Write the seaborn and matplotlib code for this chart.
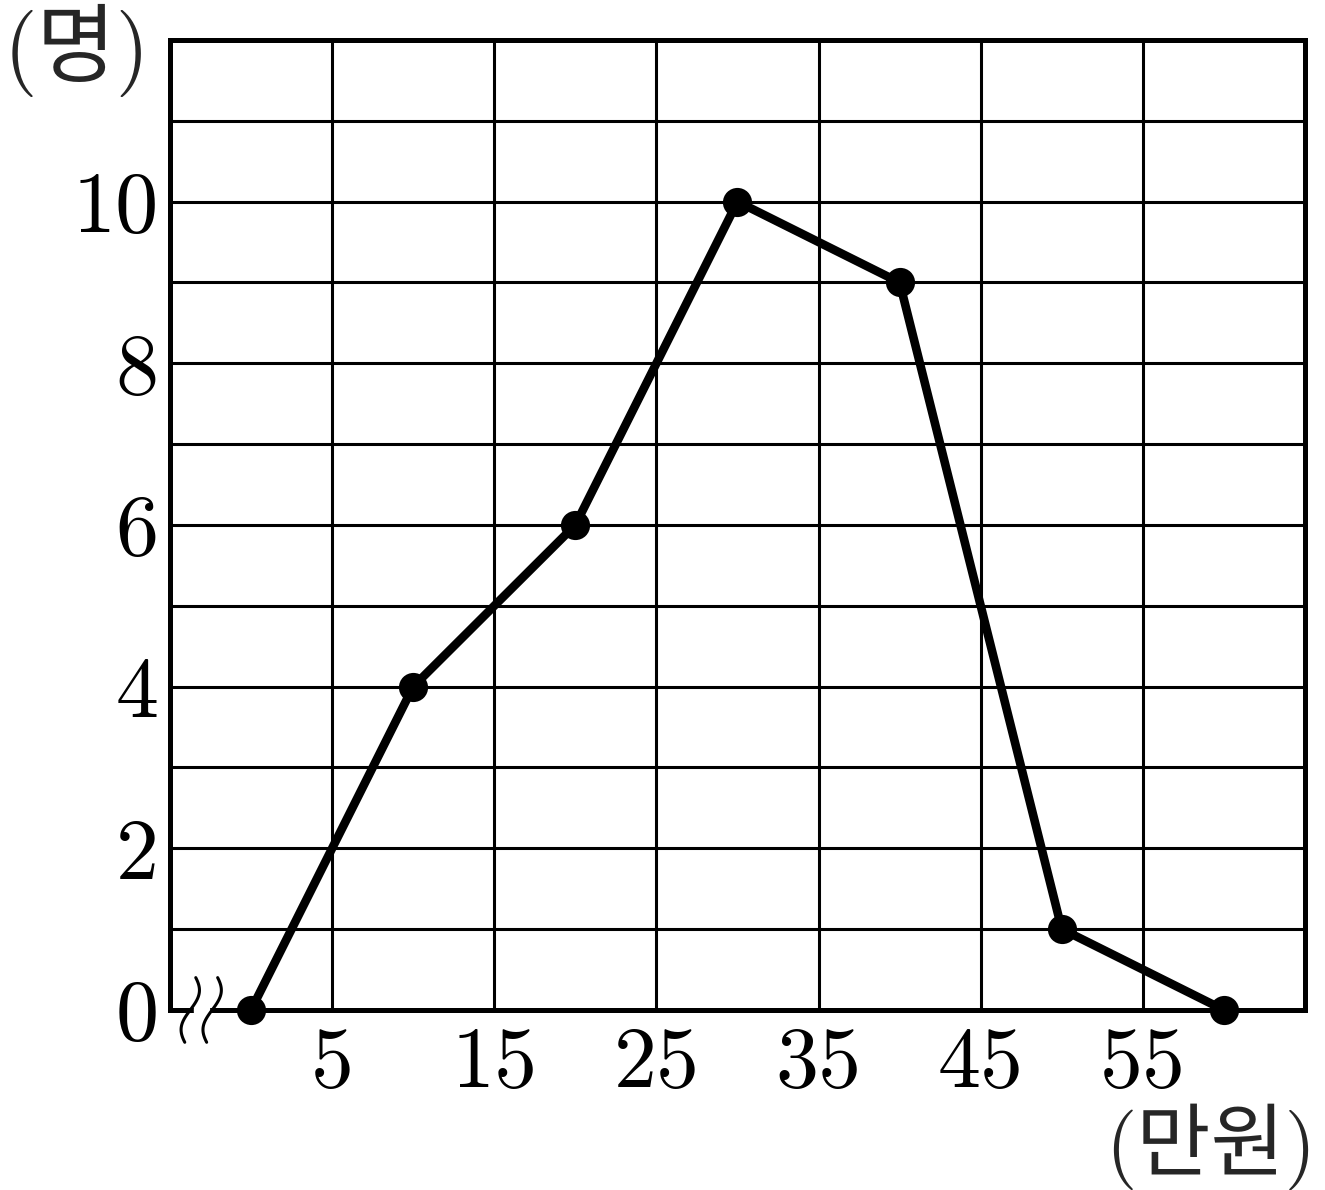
import numpy as np
import pandas as pd
import seaborn as sns
import matplotlib.pyplot as plt

# data
income = [0, 10, 20, 30, 40, 50, 60]
people = [0, 4, 6, 10, 9, 1, 0]
x_ticks = [5, 15, 25, 35, 45, 55]
y_ticks = [0, 2, 4, 6, 8, 10]
y_minor = [1, 3, 5, 7, 9, 11]

df = pd.DataFrame({'income': income, 'people': people})

sns.set_style('white')
plt.rcParams['font.family'] = ['cmr10', 'Noto Sans CJK KR', 'DejaVu Sans']
plt.rcParams['axes.formatter.use_mathtext'] = True

fig = plt.figure(figsize=(13.25, 11.9), dpi=100)
ax = fig.add_axes([0.1283, 0.1513, 0.8566, 0.8151])

sns.lineplot(data=df, x='income', y='people', ax=ax, color='black',
             linewidth=6.2, marker='o', markersize=21, markeredgewidth=0,
             zorder=5, clip_on=False)

ax.set_xlim(-5, 65)
ax.set_ylim(0, 12)
ax.set_xticks(x_ticks)
ax.set_yticks(y_ticks)
ax.set_yticks(y_minor, minor=True)
ax.set_xticklabels([str(t) for t in x_ticks])
ax.set_yticklabels([str(t) for t in y_ticks])
ax.grid(True, which='both', color='black', linewidth=2.2)
ax.set_axisbelow(True)
ax.tick_params(axis='both', which='both', length=0, labelsize=62, colors='black')
ax.tick_params(axis='x', pad=12)
ax.tick_params(axis='y', pad=8)
ax.set_xlabel('')
ax.set_ylabel('')
for s in ax.spines.values():
    s.set_visible(True)
    s.set_color('black')
    s.set_linewidth(3.6)

# axis break marks near the origin
t = np.linspace(-1, 1, 60)
for cx in [-3.75, -2.4]:
    wx = cx + 0.45 * np.sin(t * np.pi * 0.9) * -1 + 0.2 * t * -1
    wy = -0.4 * t
    ax.plot(wx, wy, color='black', linewidth=2.2, clip_on=False, zorder=6)
ax.fill_between([-3.55, -2.6], -0.03, 0.03, color='white', zorder=5.5, clip_on=False)

fig.text(0.003, 0.997, '(명)', fontsize=62, va='top', ha='left', fontweight='medium')
fig.text(0.993, 0.0, '(만원)', fontsize=58, va='bottom', ha='right', fontweight='medium')

fig.savefig('out.png', dpi=100)
